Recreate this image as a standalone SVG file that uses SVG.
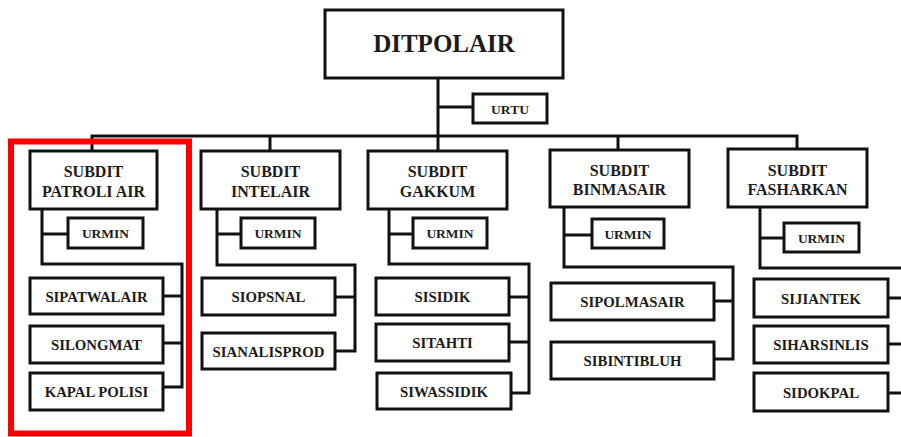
<svg xmlns="http://www.w3.org/2000/svg" width="901" height="437" viewBox="0 0 901 437">
<style>
.b{fill:#fff;stroke:#111;stroke-width:3}
.t{font-family:"Liberation Serif","Times New Roman",serif;font-weight:bold;fill:#1c1c1c;text-anchor:middle}
.h{font-size:25px}
.s{font-size:16px}
.u{font-size:13.5px}
.r{font-size:14.8px}
.c{fill:none;stroke:#111;stroke-width:3;stroke-linecap:square}
</style>
<rect width="901" height="437" fill="#fff"/>
<g id="connectors" class="c">
<path d="M438 78V151M438 107H473M92 136H797M92 136V151M270 136V151M618 136V150M797 136V149"/>
<path d="M42 209V264H182V387M42 234H68M163 296H182M163 343H182M163 387H182"/>
<path d="M217 209V265H355V351M217 234H241M335 297H355M335 351H355"/>
<path d="M389 209V264H529V393M389 234H413M509 297H529M509 342H529M511 393H529"/>
<path d="M564 207V267H733V359M564 235H592M714 301H733M714 359H733"/>
<path d="M760 207V268H903M760 238H784M888 298H903M888 344H903M888 393H903"/>
</g>
<g id="ditpolair"><rect class="b" x="325" y="10" width="238" height="68"/><text class="t h" x="444" y="52">DITPOLAIR</text></g>
<g id="urtu"><rect class="b" x="473" y="94" width="74" height="29"/><text class="t u" x="510" y="114">URTU</text></g>
<g id="subdit-patroli"><rect class="b" x="30" y="151" width="127" height="58"/><text class="t s" x="93.5" y="177">SUBDIT</text><text class="t s" x="93.5" y="197">PATROLI AIR</text></g>
<g id="subdit-intelair"><rect class="b" x="201" y="151" width="139" height="58"/><text class="t s" x="270.5" y="177">SUBDIT</text><text class="t s" x="270.5" y="197">INTELAIR</text></g>
<g id="subdit-gakkum"><rect class="b" x="368" y="151" width="139" height="58"/><text class="t s" x="437.5" y="177">SUBDIT</text><text class="t s" x="437.5" y="197">GAKKUM</text></g>
<g id="subdit-binmasair"><rect class="b" x="550" y="150" width="139" height="57"/><text class="t s" x="619.5" y="176">SUBDIT</text><text class="t s" x="619.5" y="195">BINMASAIR</text></g>
<g id="subdit-fasharkan"><rect class="b" x="728" y="149" width="139" height="58"/><text class="t s" x="797.5" y="176">SUBDIT</text><text class="t s" x="797.5" y="195">FASHARKAN</text></g>
<g id="urmin-patroli"><rect class="b" x="68" y="218" width="75" height="30"/><text class="t u" x="105.5" y="238">URMIN</text></g>
<g id="urmin-intelair"><rect class="b" x="241" y="218" width="74" height="30"/><text class="t u" x="278" y="238">URMIN</text></g>
<g id="urmin-gakkum"><rect class="b" x="413" y="218" width="74" height="30"/><text class="t u" x="450" y="238">URMIN</text></g>
<g id="urmin-binmasair"><rect class="b" x="592" y="219" width="72" height="29"/><text class="t u" x="628" y="238.5">URMIN</text></g>
<g id="urmin-fasharkan"><rect class="b" x="784" y="223" width="75" height="29"/><text class="t u" x="821.5" y="242.5">URMIN</text></g>
<g id="sipatwalair"><rect class="b" x="30" y="278" width="133" height="36"/><text class="t r" x="96.5" y="301.5">SIPATWALAIR</text></g>
<g id="silongmat"><rect class="b" x="30" y="326" width="133" height="37"/><text class="t r" x="96.5" y="350">SILONGMAT</text></g>
<g id="kapal-polisi"><rect class="b" x="30" y="373" width="133" height="37"/><text class="t r" x="96.5" y="397">KAPAL POLISI</text></g>
<g id="siopsnal"><rect class="b" x="202" y="278" width="133" height="37"/><text class="t r" x="268.5" y="302">SIOPSNAL</text></g>
<g id="sianalisprod"><rect class="b" x="202" y="333" width="133" height="36"/><text class="t r" x="268.5" y="356.5">SIANALISPROD</text></g>
<g id="sisidik"><rect class="b" x="376" y="278" width="133" height="37"/><text class="t r" x="442.5" y="302">SISIDIK</text></g>
<g id="sitahti"><rect class="b" x="376" y="324" width="133" height="37"/><text class="t r" x="442.5" y="348">SITAHTI</text></g>
<g id="siwassidik"><rect class="b" x="377" y="373" width="134" height="36"/><text class="t r" x="444" y="396.5">SIWASSIDIK</text></g>
<g id="sipolmasair"><rect class="b" x="551" y="283" width="163" height="37"/><text class="t r" x="632.5" y="307">SIPOLMASAIR</text></g>
<g id="sibintibluh"><rect class="b" x="551" y="342" width="163" height="37"/><text class="t r" x="632.5" y="366">SIBINTIBLUH</text></g>
<g id="sijiantek"><rect class="b" x="754" y="279" width="134" height="38"/><text class="t r" x="821" y="303.5">SIJIANTEK</text></g>
<g id="siharsinlis"><rect class="b" x="754" y="326" width="134" height="37"/><text class="t r" x="821" y="350">SIHARSINLIS</text></g>
<g id="sidokpal"><rect class="b" x="754" y="373" width="134" height="38"/><text class="t r" x="821" y="397.5">SIDOKPAL</text></g>
<rect id="highlight" x="11" y="141.5" width="178" height="292" fill="none" stroke="#f00" stroke-width="6"/>
</svg>
